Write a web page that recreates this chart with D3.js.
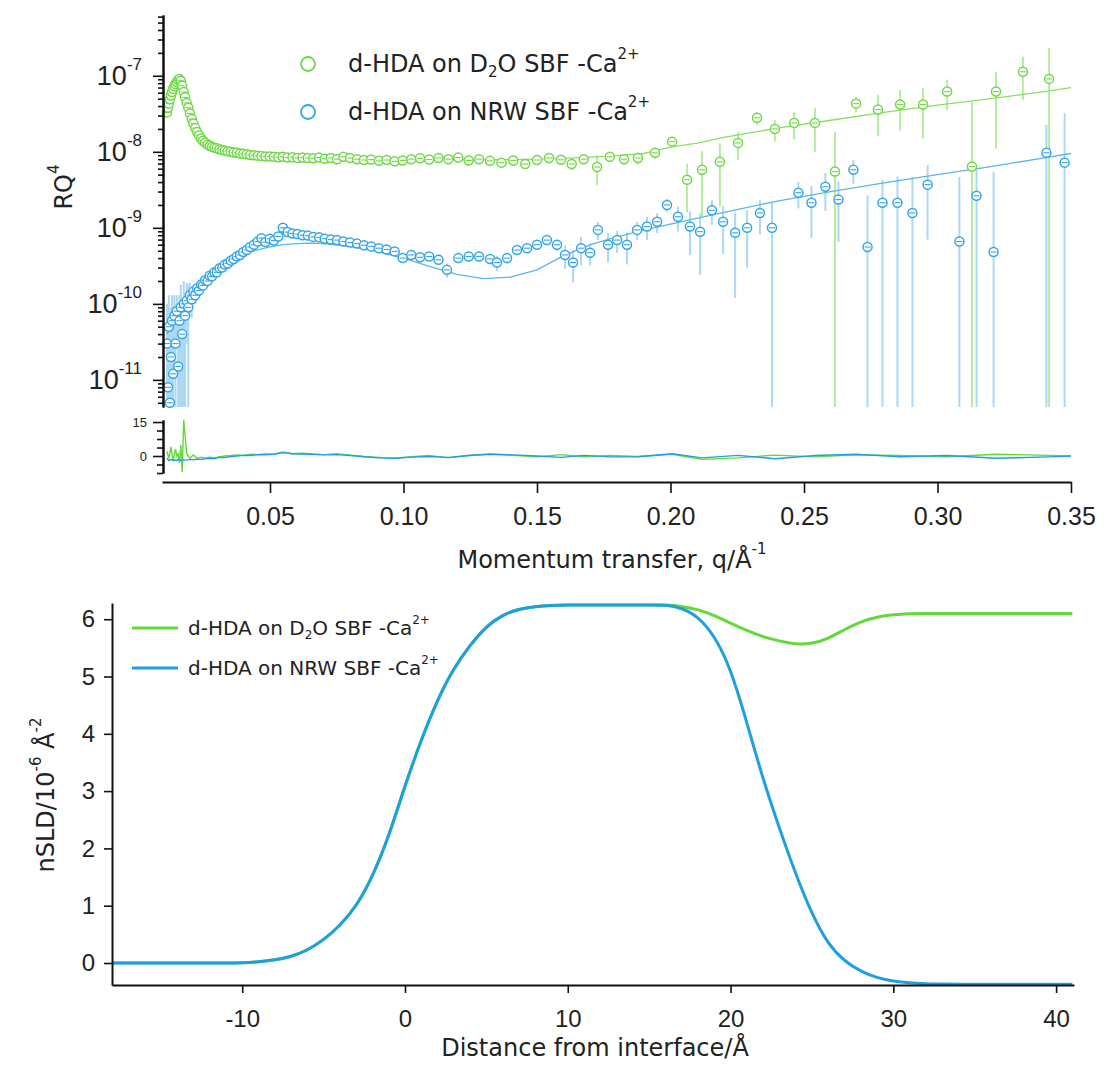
<!DOCTYPE html>
<html>
<head>
<meta charset="utf-8">
<title>d-HDA reflectivity and SLD profiles</title>
<script src="https://cdn.jsdelivr.net/npm/d3@7"></script>
<style>
  body { margin: 0; background: #fff; }
  svg { display: block; font-family: "DejaVu Sans", Verdana, sans-serif; }
  .axis path, .axis line { stroke: #111; }
  .axis text { fill: #222; }
</style>
</head>
<body>
<svg width="1107" height="1068"></svg>
<script>
// ---- reflectivity data, d-HDA on D2O SBF (green) ----
var greenQ = [
  0.0114, 0.0118, 0.0121, 0.0125, 0.0129, 0.0133, 0.0137, 0.0142, 0.0146, 0.0151,
  0.0156, 0.0161, 0.0166, 0.0171, 0.0177, 0.0182, 0.0188, 0.0194, 0.0200, 0.0207,
  0.0213, 0.0220, 0.0227, 0.0234, 0.0242, 0.0249, 0.0257, 0.0266, 0.0274, 0.0283,
  0.0292, 0.0301, 0.0311, 0.0321, 0.0331, 0.0342, 0.0353, 0.0364, 0.0376, 0.0388,
  0.0400, 0.0413, 0.0426, 0.0440, 0.0454, 0.0468, 0.0483, 0.0499, 0.0515, 0.0531,
  0.0548, 0.0566, 0.0584, 0.0603, 0.0622, 0.0642, 0.0662, 0.0684, 0.0705, 0.0728,
  0.0751, 0.0775, 0.0800, 0.0826, 0.0852, 0.0879, 0.0908, 0.0937, 0.0967, 0.0997,
  0.1029, 0.1062, 0.1096, 0.1131, 0.1168, 0.1205, 0.1244, 0.1283, 0.1324, 0.1367,
  0.1411, 0.1456,
  0.1500, 0.1545, 0.1590, 0.1630, 0.1675, 0.1725, 0.1773, 0.1826, 0.1878, 0.1942,
  0.2006, 0.2062, 0.2118, 0.2185, 0.2253, 0.2324, 0.2391, 0.2463, 0.2541, 0.2616,
  0.2695, 0.2777, 0.2860, 0.2946, 0.3036, 0.3129, 0.3219, 0.3320, 0.3418
];
var greenR = [
  3.3e-8, 3.8e-8, 4.3e-8, 4.9e-8, 5.5e-8, 6.1e-8, 6.7e-8, 7.3e-8, 7.8e-8, 8.3e-8,
  8.8e-8, 9.1e-8, 8.6e-8, 7.4e-8, 6.1e-8, 5.2e-8, 4.4e-8, 3.8e-8, 3.2e-8, 2.7e-8,
  2.35e-8, 2.05e-8, 1.82e-8, 1.65e-8, 1.5e-8, 1.4e-8, 1.32e-8, 1.25e-8, 1.2e-8, 1.16e-8,
  1.13e-8, 1.11e-8, 1.08e-8, 1.06e-8, 1.04e-8, 1.02e-8, 1.0e-8, 9.8e-9, 9.7e-9, 9.5e-9,
  9.4e-9, 9.3e-9, 9.1e-9, 9.0e-9, 8.9e-9, 8.8e-9, 8.7e-9, 8.7e-9, 8.6e-9, 8.5e-9,
  8.6e-9, 8.4e-9, 8.5e-9, 8.3e-9, 8.4e-9, 8.3e-9, 8.2e-9, 8.4e-9, 8.1e-9, 8.3e-9,
  8.0e-9, 8.6e-9, 8.3e-9, 8.0e-9, 7.8e-9, 7.9e-9, 7.6e-9, 7.8e-9, 7.5e-9, 7.7e-9,
  8.0e-9, 8.2e-9, 7.9e-9, 8.3e-9, 8.0e-9, 8.4e-9, 7.7e-9, 8.0e-9, 7.6e-9, 7.2e-9,
  7.7e-9, 6.9e-9,
  7.8e-9, 8.3e-9, 7.85e-9, 6.9e-9, 8.0e-9, 6.3e-9, 8.6e-9, 8.0e-9, 8.3e-9, 9.7e-9,
  1.36e-8, 4.3e-9, 5.8e-9, 7.4e-9, 1.31e-8, 2.8e-8, 2.0e-8, 2.4e-8, 2.4e-8, 5.5e-9,
  4.3e-8, 3.6e-8, 4.2e-8, 4.2e-8, 6.2e-8, 6.4e-9, 6.2e-8, 1.13e-7, 9.1e-8
];
var greenSigma = [
  2.0e-9, 2.2e-9, 2.3e-9, 2.5e-9, 2.6e-9, 2.8e-9, 3.0e-9, 3.2e-9, 3.3e-9, 3.4e-9,
  3.5e-9, 3.5e-9, 3.2e-9, 2.8e-9, 2.3e-9, 1.9e-9, 1.6e-9, 1.4e-9, 1.1e-9, 9e-10,
  8e-10, 7e-10, 6e-10, 5e-10, 5e-10, 4e-10, 4e-10, 4e-10, 3e-10, 3e-10,
  3e-10, 3e-10, 3e-10, 3e-10, 3e-10, 3e-10, 3e-10, 3e-10, 3e-10, 3e-10,
  3e-10, 3e-10, 3e-10, 3e-10, 3e-10, 3e-10, 3e-10, 3e-10, 3e-10, 3e-10,
  3e-10, 3e-10, 3e-10, 3e-10, 3e-10, 3.5e-10, 3.5e-10, 3.5e-10, 3.5e-10, 3.5e-10,
  3.5e-10, 3.5e-10, 3.5e-10, 3.5e-10, 3.5e-10, 4e-10, 4e-10, 4e-10, 4e-10, 4e-10,
  4e-10, 4e-10, 4e-10, 4.5e-10, 4.5e-10, 4.5e-10, 5e-10, 5e-10, 5e-10, 5e-10,
  5.5e-10, 6e-10,
  6e-10, 7e-10, 8e-10, 1.2e-9, 1.0e-9, 2.7e-9, 1.2e-9, 1.3e-9, 1.5e-9, 1.6e-9,
  1.8e-9, 2.7e-9, 4.4e-9, 5.5e-9, 5.3e-9, 5.5e-9, 6.4e-9, 9.5e-9, 1.4e-8, 1.28e-8,
  1.0e-8, 2.0e-8, 2.3e-8, 2.7e-8, 2.7e-8, 3.9e-8, 5.1e-8, 6.5e-8, 1.4e-7
];
var greenFitQ = [
  0.0114, 0.0125, 0.0137, 0.0151, 0.0161, 0.0171, 0.0182, 0.0194, 0.0207, 0.0220,
  0.0234, 0.0249, 0.0266, 0.0283, 0.0301, 0.0331, 0.0364, 0.0400, 0.0454, 0.0515,
  0.06, 0.07, 0.08, 0.09, 0.10, 0.11, 0.12, 0.13, 0.14, 0.15,
  0.16, 0.17, 0.18, 0.19, 0.20, 0.21, 0.22, 0.24, 0.26, 0.28,
  0.30, 0.32, 0.34, 0.35
];
var greenFitR = [
  3.4e-8, 4.8e-8, 6.6e-8, 8.2e-8, 8.8e-8, 7.5e-8, 5.3e-8, 3.8e-8, 2.7e-8, 2.05e-8,
  1.65e-8, 1.4e-8, 1.25e-8, 1.16e-8, 1.1e-8, 1.04e-8, 9.8e-9, 9.4e-9, 8.9e-9, 8.6e-9,
  8.4e-9, 8.3e-9, 8.2e-9, 8.1e-9, 8.0e-9, 8.0e-9, 7.9e-9, 7.9e-9, 7.9e-9, 8.0e-9,
  8.2e-9, 8.5e-9, 8.9e-9, 9.5e-9, 1.15e-8, 1.3e-8, 1.55e-8, 2.05e-8, 2.6e-8, 3.3e-8,
  4.1e-8, 5.0e-8, 6.2e-8, 7.0e-8
];

// ---- reflectivity data, d-HDA on NRW SBF (blue) ----
var blueQ = [
  0.0114, 0.0118, 0.0121, 0.0125, 0.0129, 0.0133, 0.0137, 0.0142, 0.0146, 0.0151,
  0.0156, 0.0161, 0.0166, 0.0171, 0.0177, 0.0182, 0.0188, 0.0194, 0.0200, 0.0207,
  0.0213, 0.0220, 0.0227, 0.0234, 0.0242, 0.0249, 0.0257, 0.0266, 0.0274, 0.0283,
  0.0292, 0.0301, 0.0311, 0.0321, 0.0331, 0.0342, 0.0353, 0.0364, 0.0376, 0.0388,
  0.0400, 0.0413, 0.0426, 0.0440, 0.0454, 0.0468, 0.0483, 0.0499, 0.0515, 0.0531,
  0.0548, 0.0566, 0.0584, 0.0603, 0.0622, 0.0642, 0.0662, 0.0684, 0.0705, 0.0728,
  0.0751, 0.0775, 0.0800, 0.0826, 0.0852, 0.0879, 0.0908, 0.0937, 0.0967,
  0.0997, 0.1029, 0.1062, 0.1096, 0.1131, 0.1163, 0.1205, 0.1244, 0.1283, 0.1324,
  0.1350, 0.1388, 0.1425, 0.1463, 0.1500, 0.1537, 0.1575, 0.1605, 0.1635, 0.1665,
  0.1699, 0.1728, 0.1766, 0.1800, 0.1837, 0.1875, 0.1912, 0.1950, 0.1987, 0.2028,
  0.2073, 0.2111, 0.2155, 0.2197, 0.2242, 0.2287, 0.2335, 0.2380, 0.2479, 0.2528,
  0.2580, 0.2629, 0.2685, 0.2738, 0.2794, 0.2850, 0.2906, 0.2963, 0.3082, 0.3146,
  0.3210, 0.3408, 0.3476
];
var blueR = [
  3.0e-11, 8e-12, 5e-11, 5e-12, 2e-11, 6e-11, 1.2e-11, 7e-11, 3e-11, 8e-11,
  1.5e-11, 6e-11, 9e-11, 4e-11, 1.0e-10, 7e-11, 1.1e-10, 9e-11, 1.3e-10, 1.15e-10,
  1.45e-10, 1.3e-10, 1.6e-10, 1.5e-10, 1.8e-10, 1.75e-10, 2.05e-10, 2.0e-10, 2.35e-10, 2.3e-10,
  2.6e-10, 2.6e-10, 2.95e-10, 3.0e-10, 3.3e-10, 3.4e-10, 3.7e-10, 3.9e-10, 4.2e-10, 4.4e-10,
  4.8e-10, 5.1e-10, 5.6e-10, 6.0e-10, 6.6e-10, 7.3e-10, 6.5e-10, 7.2e-10, 6.8e-10, 7.7e-10,
  1.0e-9, 8.8e-10, 8.4e-10, 8.3e-10, 8.0e-10, 7.9e-10, 7.6e-10, 7.5e-10, 7.2e-10, 7.0e-10,
  6.9e-10, 6.6e-10, 6.4e-10, 6.2e-10, 5.9e-10, 5.7e-10, 5.4e-10, 5.2e-10, 4.9e-10,
  4.0e-10, 4.4e-10, 4.1e-10, 4.2e-10, 3.8e-10, 2.8e-10, 4.0e-10, 4.2e-10, 4.2e-10, 3.9e-10,
  3.5e-10, 4.0e-10, 5.1e-10, 5.4e-10, 6.0e-10, 6.9e-10, 6.0e-10, 4.4e-10, 3.5e-10, 5.4e-10,
  4.7e-10, 9.4e-10, 6.0e-10, 6.9e-10, 6.0e-10, 9.4e-10, 1.04e-9, 1.2e-9, 2.0e-9, 1.4e-9,
  1.04e-9, 8.9e-10, 1.7e-9, 1.2e-9, 8.6e-10, 1.0e-9, 1.57e-9, 1.0e-9, 2.9e-9, 2.14e-9,
  3.47e-9, 2.35e-9, 5.8e-9, 5.6e-10, 2.14e-9, 2.14e-9, 1.57e-9, 3.7e-9, 6.6e-10, 2.64e-9,
  4.8e-10, 9.7e-9, 7.2e-9
];
var blueSigma = [
  7e-11, 6e-11, 8e-11, 5e-11, 7e-11, 7e-11, 6e-11, 6e-11, 7e-11, 5e-11,
  6e-11, 7e-11, 9e-11, 5e-11, 1.0e-10, 7e-11, 8e-11, 9e-11, 6e-11, 5e-11,
  3e-11, 3e-11, 2.5e-11, 2.5e-11, 2.5e-11, 2e-11, 2e-11, 2e-11, 2e-11, 2e-11,
  2e-11, 2e-11, 2e-11, 2e-11, 2e-11, 2e-11, 2e-11, 2e-11, 2e-11, 2e-11,
  2e-11, 2e-11, 2e-11, 2e-11, 2e-11, 2e-11, 2e-11, 2e-11, 2e-11, 2e-11,
  2.5e-11, 2.5e-11, 2.5e-11, 2.5e-11, 2.5e-11, 2.5e-11, 2.5e-11, 2.5e-11, 2.5e-11, 2.5e-11,
  2.5e-11, 2.5e-11, 2.5e-11, 2.5e-11, 2.5e-11, 2.5e-11, 2.5e-11, 2.5e-11, 2.5e-11,
  3e-11, 3e-11, 3e-11, 3e-11, 4e-11, 6e-11, 4e-11, 4e-11, 5e-11, 5e-11,
  8e-11, 6e-11, 6e-11, 7e-11, 7e-11, 8e-11, 1.0e-10, 1.5e-10, 1.6e-10, 2.2e-10,
  1.5e-10, 2.5e-10, 2.5e-10, 2.2e-10, 2.7e-10, 2.5e-10, 3.5e-10, 3.5e-10, 4e-10, 5e-10,
  6e-10, 6.5e-10, 6e-10, 7.5e-10, 7.4e-10, 7e-10, 7.5e-10, 1.14e-9, 1.1e-9, 1.4e-9,
  1.8e-9, 1.7e-9, 2.0e-9, 2.1e-9, 2.2e-9, 2.6e-9, 3.1e-9, 3.0e-9, 4.0e-9, 3.2e-9,
  5.0e-9, 1.3e-8, 2.5e-8
];
var blueFitQ = [
  0.0114, 0.015, 0.02, 0.025, 0.03, 0.035, 0.04, 0.045, 0.05, 0.055,
  0.06, 0.065, 0.07, 0.08, 0.09, 0.10, 0.11, 0.12, 0.13, 0.14,
  0.15, 0.16, 0.17, 0.18, 0.19, 0.20, 0.22, 0.24, 0.26, 0.28,
  0.30, 0.32, 0.34, 0.35
];
var blueFitR = [
  4e-11, 6.5e-11, 1.15e-10, 1.8e-10, 2.6e-10, 3.6e-10, 4.5e-10, 5.1e-10, 5.6e-10, 6.0e-10,
  6.2e-10, 6.3e-10, 6.2e-10, 5.7e-10, 4.9e-10, 4.0e-10, 3.1e-10, 2.45e-10, 2.15e-10, 2.25e-10,
  2.8e-10, 4.3e-10, 6.0e-10, 7.6e-10, 9.3e-10, 1.12e-9, 1.6e-9, 2.25e-9, 3.0e-9, 3.9e-9,
  5.0e-9, 6.4e-9, 8.3e-9, 9.5e-9
];

// ---- residuals (lower strip of the top panel) ----
var resQ = [
  0.0114, 0.0121, 0.0129, 0.0137, 0.0146, 0.0151, 0.0156, 0.0161, 0.0166, 0.0171,
  0.0177, 0.0188, 0.0200, 0.0213, 0.0227, 0.0242, 0.0257, 0.0274, 0.0292, 0.0311,
  0.0331, 0.0353, 0.0376, 0.0400, 0.0426, 0.0454, 0.0483, 0.0515, 0.0548, 0.0584,
  0.0622, 0.0662, 0.0705, 0.0751, 0.0800, 0.0852, 0.0908, 0.0967, 0.1029, 0.1096,
  0.1168, 0.1244, 0.1324, 0.1411, 0.1500, 0.1590, 0.1675, 0.1773, 0.1878, 0.2006,
  0.2118, 0.2253, 0.2391, 0.2541, 0.2695, 0.2860, 0.3036, 0.3219, 0.3418, 0.3500
];
var resGreen = [
  2, -1, 4, -2, 3, 0, 1, -3, 5, -7,
  16, 1, -1, 0.5, -1, -0.5, -1, -0.5, -0.8, -0.3,
  0, 0.2, 0.5, 0.3, 0.8, 0.6, 1.0, 0.8, 1.8, 1.0,
  1.2, 0.8, 0.6, 1.0, 0.4, -0.2, -0.6, -1.0, -0.3, 0.2,
  -0.8, 0.2, 0.9, 0.3, -0.4, 0.6, -0.3, 0.2, -0.2, 0.8,
  -1.5, -0.8, 0.4, -0.4, 0.5, 0.2, -0.3, 0.8, 0.3, 0
];
var resBlue = [
  -1, -2, -1.5, -2, -1.8, -2, -1.5, -2, -1.8, -2,
  -1.6, -1.8, -1.5, -1.7, -1.4, -1.5, -1.2, -1.0, -1.1, -0.6,
  -0.7, -0.2, 0, 0.3, 0.2, 0.6, 0.5, 0.8, 1.5, 1.0,
  0.9, 0.8, 0.5, 0.6, 0.2, -0.3, -0.8, -1.0, -0.5, -0.2,
  -0.6, 0.2, 0.8, 0.5, 0, -0.6, 0.3, -0.4, -0.3, 1.0,
  -0.8, 0.3, -1.2, 0.2, 0.8, -0.3, 0.2, -1.0, -0.4, 0
];

// ---- SLD profiles (bottom panel) ----
var sldZ = [
  -18, -17, -16, -15, -14, -13, -12, -11, -10, -9, -8, -7, -6, -5, -4, -3, -2, -1,
  0, 1, 2, 3, 4, 5, 6, 7, 8, 9, 10, 11, 12, 13, 14, 15, 16, 17, 18, 19, 20,
  21, 22, 23, 24, 25, 26, 27, 28, 29, 30, 31, 32, 33, 34, 35, 36, 37, 38, 39, 40, 41
];
var sldBlue = [
  0, 0, 0, 0, 0, 0, 0, 0, 0, 0.02, 0.05, 0.11, 0.22, 0.4, 0.65, 0.98, 1.5, 2.2,
  3.1, 3.9, 4.6, 5.15, 5.55, 5.88, 6.08, 6.18, 6.22, 6.24, 6.25, 6.25, 6.25, 6.25, 6.25, 6.25, 6.25,
  6.2, 6.05, 5.72, 5.15, 4.2, 3.2, 2.35, 1.55, 0.85, 0.32, 0.03, -0.15, -0.26, -0.32, -0.35, -0.36,
  -0.37, -0.37, -0.37, -0.37, -0.37, -0.37, -0.37, -0.37, -0.37
];
var sldGreen = [
  0, 0, 0, 0, 0, 0, 0, 0, 0, 0.02, 0.05, 0.11, 0.22, 0.4, 0.65, 0.98, 1.5, 2.2,
  3.1, 3.9, 4.6, 5.15, 5.55, 5.88, 6.08, 6.18, 6.22, 6.24, 6.25, 6.25, 6.25, 6.25, 6.25, 6.25, 6.25,
  6.23, 6.17, 6.07, 5.93, 5.8, 5.69, 5.62, 5.56, 5.57, 5.66, 5.82, 5.96, 6.04, 6.08, 6.1, 6.1,
  6.1, 6.1, 6.1, 6.1, 6.1, 6.1, 6.1, 6.1, 6.1
];

var green = { mark: "#6fd845", bar: "#b4eda0", fit: "#88e060", line: "#62d93a" };
var blue = { mark: "#35a5e6", bar: "#acd8f4", fit: "#5ab5ea", line: "#1f9fe2" };

var svg = d3.select("svg");

// top panel scales
var x = d3.scaleLinear().domain([0.00955, 0.35]).range([162, 1071]);
var y = d3.scaleLog().domain([4.4e-12, 6.3e-7]).range([407, 15]);
var yr = d3.scaleLinear().domain([-7.5, 15.9]).range([473, 420]);
// bottom panel scales
var xs = d3.scaleLinear().domain([-18, 41.1]).range([112, 1074]);
var ys = d3.scaleLinear().domain([-0.384, 6.283]).range([985, 603]);

// tick labels keep a plain hyphen for negatives, as in the original
var plain = function(d) { return String(d); };

svg.append("clipPath").attr("id", "clipTop")
  .append("rect").attr("x", 163).attr("y", 15).attr("width", 920).attr("height", 392);

function styleAxis(g) {
  g.attr("class", "axis");
  g.select(".domain").attr("stroke-width", 2);
  g.selectAll(".tick line").attr("stroke-width", 1.6);
  return g;
}

function points(q, r, s) {
  return q.map(function(d, i) { return { q: d, r: r[i], s: s[i] }; });
}

var logLine = d3.line().x(function(d) { return x(d[0]); }).y(function(d) { return y(d[1]); });

function drawBars(pts, c) {
  var bottom = y.range()[0];
  svg.append("g").attr("clip-path", "url(#clipTop)")
    .selectAll("line").data(pts).enter().append("line")
    .attr("x1", function(d) { return x(d.q); })
    .attr("x2", function(d) { return x(d.q); })
    .attr("y1", function(d) { return d.r - d.s > y.domain()[0] ? y(d.r - d.s) : bottom; })
    .attr("y2", function(d) { return y(d.r + d.s); })
    .attr("stroke", c.bar).attr("stroke-width", 2);
}

function drawFit(fq, fr, c) {
  svg.append("path").datum(d3.zip(fq, fr))
    .attr("fill", "none").attr("stroke", c.fit).attr("stroke-width", 1.3)
    .attr("d", logLine);
}

function drawMarkers(pts, c) {
  var m = svg.append("g").selectAll("g").data(pts).enter().append("g")
    .attr("transform", function(d) { return "translate(" + x(d.q) + "," + y(d.r) + ")"; });
  m.append("circle").attr("r", 4.5).attr("fill", "#fff")
    .attr("stroke", c.mark).attr("stroke-width", 1.5);
  m.append("line").attr("x1", -3).attr("x2", 3)
    .attr("stroke", c.mark).attr("stroke-width", 1.1);
}

var gPts = points(greenQ, greenR, greenSigma);
var bPts = points(blueQ, blueR, blueSigma);

drawBars(gPts, green);
drawBars(bPts, blue);
drawFit(greenFitQ, greenFitR, green);
drawFit(blueFitQ, blueFitR, blue);
drawMarkers(gPts, green);
drawMarkers(bPts, blue);

// residual traces
var resLine = d3.line().x(function(d) { return x(d[0]); }).y(function(d) { return yr(d[1]); });
svg.append("path").datum(d3.zip(resQ, resGreen))
  .attr("fill", "none").attr("stroke", green.line).attr("stroke-width", 1.4).attr("d", resLine);
svg.append("path").datum(d3.zip(resQ, resBlue))
  .attr("fill", "none").attr("stroke", blue.line).attr("stroke-width", 1.4).attr("d", resLine);

// log axis: minor then major ticks
var minor = [];
for (var e = -12; e <= -7; e++) {
  for (var k = 2; k <= 9; k++) {
    var v = k * Math.pow(10, e);
    if (v >= y.domain()[0] && v <= y.domain()[1]) minor.push(v);
  }
}
styleAxis(svg.append("g").attr("transform", "translate(163,0)")
  .call(d3.axisLeft(y).tickValues(minor).tickSize(5).tickSizeOuter(0).tickFormat("")));
var yMajor = styleAxis(svg.append("g").attr("transform", "translate(163,0)")
  .call(d3.axisLeft(y).tickValues([1e-11, 1e-10, 1e-9, 1e-8, 1e-7])
    .tickSize(10).tickSizeOuter(0).tickPadding(11).tickFormat("")));
yMajor.selectAll(".tick text").attr("font-size", 27).each(function(d) {
  var t = d3.select(this);
  t.append("tspan").text("10");
  t.append("tspan").attr("dy", -15).attr("font-size", 17).text(String(Math.round(Math.log10(d))));
});

// residual axis
styleAxis(svg.append("g").attr("transform", "translate(163,0)")
  .call(d3.axisLeft(yr).tickValues([-7.5, -3.75, 3.75, 7.5, 11.25]).tickSize(6).tickSizeOuter(0).tickFormat("")));
styleAxis(svg.append("g").attr("transform", "translate(163,0)")
  .call(d3.axisLeft(yr).tickValues([0, 15]).tickSize(10).tickSizeOuter(0).tickPadding(6).tickFormat(plain)))
  .selectAll("text").attr("font-size", 13);

// q axis
styleAxis(svg.append("g").attr("transform", "translate(0,482)")
  .call(d3.axisBottom(x).tickValues([0.05, 0.10, 0.15, 0.20, 0.25, 0.30, 0.35])
    .tickSize(11).tickSizeOuter(0).tickPadding(14).tickFormat(d3.format(".2f"))))
  .selectAll("text").attr("font-size", 25);

// top titles
var t1 = svg.append("text").attr("transform", "translate(72,187) rotate(-90)")
  .attr("text-anchor", "middle").attr("font-size", 24).attr("fill", "#222");
t1.append("tspan").text("RQ");
t1.append("tspan").attr("dy", -13).attr("font-size", 15).text("4");

var t2 = svg.append("text").attr("x", 612).attr("y", 568)
  .attr("text-anchor", "middle").attr("font-size", 24).attr("fill", "#222");
t2.append("tspan").text("Momentum transfer, q/Å");
t2.append("tspan").attr("dy", -14).attr("font-size", 15).text("-1");

// legend text with sub/superscripts
function legendText(sel, x0, y0, size, water) {
  var t = sel.append("text").attr("x", x0).attr("y", y0).attr("font-size", size).attr("fill", "#222");
  var small = Math.round(size * 0.62);
  if (water === "D2O") {
    t.append("tspan").text("d-HDA on D");
    t.append("tspan").attr("dy", size * 0.22).attr("font-size", small).text("2");
    t.append("tspan").attr("dy", -size * 0.22).text("O SBF -Ca");
  } else {
    t.append("tspan").text("d-HDA on NRW SBF -Ca");
  }
  t.append("tspan").attr("dy", -size * 0.55).attr("font-size", small).text("2+");
}
svg.append("circle").attr("cx", 308).attr("cy", 64).attr("r", 7)
  .attr("fill", "none").attr("stroke", green.mark).attr("stroke-width", 1.8);
svg.append("circle").attr("cx", 308).attr("cy", 112).attr("r", 7)
  .attr("fill", "none").attr("stroke", blue.mark).attr("stroke-width", 1.8);
legendText(svg, 348, 72, 24, "D2O");
legendText(svg, 348, 120, 24, "NRW");

// ---- bottom panel ----
var sldLine = d3.line().curve(d3.curveBasis)
  .x(function(d) { return xs(d[0]); }).y(function(d) { return ys(d[1]); });
svg.append("path").datum(d3.zip(sldZ, sldGreen))
  .attr("fill", "none").attr("stroke", green.line).attr("stroke-width", 3).attr("d", sldLine);
svg.append("path").datum(d3.zip(sldZ, sldBlue))
  .attr("fill", "none").attr("stroke", blue.line).attr("stroke-width", 3).attr("d", sldLine);

styleAxis(svg.append("g").attr("transform", "translate(112,0)")
  .call(d3.axisLeft(ys).tickValues([0, 1, 2, 3, 4, 5, 6]).tickSize(8).tickSizeOuter(0).tickPadding(9).tickFormat(plain)))
  .selectAll("text").attr("font-size", 24);
styleAxis(svg.append("g").attr("transform", "translate(0,985)")
  .call(d3.axisBottom(xs).tickValues([-10, 0, 10, 20, 30, 40]).tickSize(8).tickSizeOuter(0).tickPadding(17).tickFormat(plain)))
  .selectAll("text").attr("font-size", 24);

var t3 = svg.append("text").attr("transform", "translate(54,795) rotate(-90)")
  .attr("text-anchor", "middle").attr("font-size", 24).attr("fill", "#222");
t3.append("tspan").text("nSLD/10");
t3.append("tspan").attr("dy", -13).attr("font-size", 15).text("-6");
t3.append("tspan").attr("dy", 13).text(" Å");
t3.append("tspan").attr("dy", -13).attr("font-size", 15).text("-2");

svg.append("text").attr("x", 595).attr("y", 1056).attr("text-anchor", "middle")
  .attr("font-size", 24).attr("fill", "#222").text("Distance from interface/Å");

// bottom legend
svg.append("line").attr("x1", 132).attr("x2", 178).attr("y1", 628).attr("y2", 628)
  .attr("stroke", green.line).attr("stroke-width", 3);
svg.append("line").attr("x1", 132).attr("x2", 178).attr("y1", 668).attr("y2", 668)
  .attr("stroke", blue.line).attr("stroke-width", 3);
legendText(svg, 188, 635, 20, "D2O");
legendText(svg, 188, 675, 20, "NRW");
</script>
</body>
</html>
